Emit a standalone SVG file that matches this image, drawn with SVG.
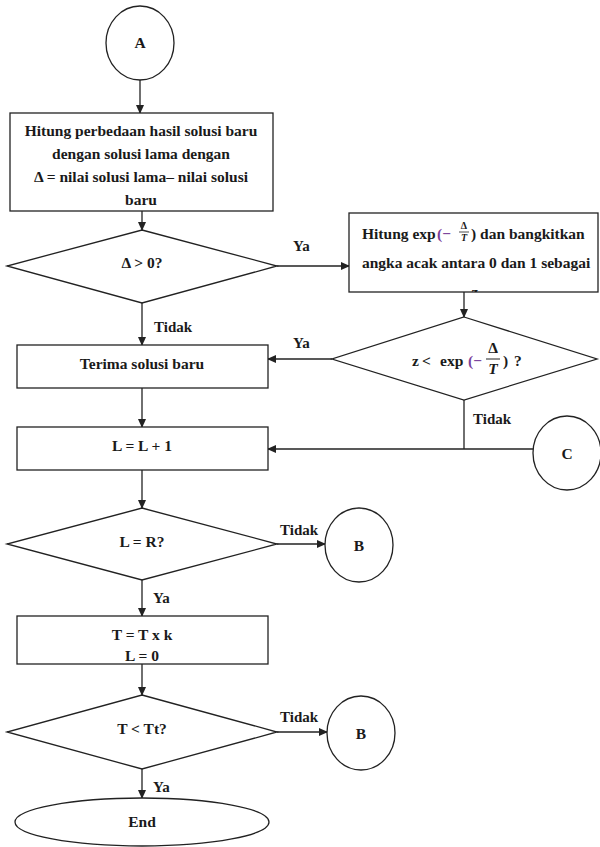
<svg xmlns="http://www.w3.org/2000/svg" width="600" height="847" viewBox="0 0 600 847">
<style>
.s{fill:#fff;stroke:#222;stroke-width:1.3}
.c{fill:none;stroke:#222;stroke-width:1.3}
.t{font-family:"Liberation Serif","Times New Roman",serif;font-weight:bold;font-size:15.5px;fill:#1a1a1a;text-anchor:middle}
.l{font-family:"Liberation Serif","Times New Roman",serif;font-weight:bold;font-size:15.5px;fill:#1a1a1a}
.lb{font-family:"Liberation Serif","Times New Roman",serif;font-weight:bold;font-size:15px;fill:#1a1a1a}
.p{fill:#7a3f9a}
.sm{font-size:10px}
</style>
<defs>
<marker id="ah" markerWidth="9" markerHeight="8" refX="8" refY="4" orient="auto" markerUnits="userSpaceOnUse">
<path d="M0,0 L9,4 L0,8 Z" fill="#222"/>
</marker>
<clipPath id="b2clip"><rect x="349" y="213" width="249" height="79"/></clipPath>
</defs>
<rect width="600" height="847" fill="#fff"/>

<g id="connectors">
<line class="c" x1="140" y1="80" x2="140" y2="113" marker-end="url(#ah)"/>
<line class="c" x1="142" y1="211" x2="142" y2="230" marker-end="url(#ah)"/>
<line class="c" x1="277" y1="266" x2="349" y2="266" marker-end="url(#ah)"/>
<text class="lb" x="293" y="251">Ya</text>
<line class="c" x1="142" y1="303" x2="142" y2="345" marker-end="url(#ah)"/>
<text class="lb" x="154" y="332">Tidak</text>
<line class="c" x1="464" y1="292" x2="464" y2="317" marker-end="url(#ah)"/>
<line class="c" x1="332" y1="359" x2="268" y2="359" marker-end="url(#ah)"/>
<text class="lb" x="293" y="348">Ya</text>
<line class="c" x1="464" y1="400" x2="464" y2="449"/>
<text class="lb" x="473" y="424">Tidak</text>
<line class="c" x1="533" y1="449" x2="268" y2="449" marker-end="url(#ah)"/>
<line class="c" x1="142" y1="388" x2="142" y2="427" marker-end="url(#ah)"/>
<line class="c" x1="142" y1="470" x2="142" y2="508" marker-end="url(#ah)"/>
<line class="c" x1="277" y1="544" x2="325" y2="544" marker-end="url(#ah)"/>
<text class="lb" x="280" y="535">Tidak</text>
<line class="c" x1="142" y1="580" x2="142" y2="616" marker-end="url(#ah)"/>
<text class="lb" x="153" y="603">Ya</text>
<line class="c" x1="142" y1="664" x2="142" y2="695" marker-end="url(#ah)"/>
<line class="c" x1="277" y1="732" x2="327" y2="732" marker-end="url(#ah)"/>
<text class="lb" x="280" y="722">Tidak</text>
<line class="c" x1="142" y1="769" x2="142" y2="798" marker-end="url(#ah)"/>
<text class="lb" x="153" y="792">Ya</text>
</g>

<g id="circleA">
<ellipse class="s" cx="140" cy="43" rx="34" ry="37"/>
<text class="t" x="140" y="48">A</text>
</g>

<g id="box1">
<rect class="s" x="10" y="113" width="263" height="98"/>
<text class="t" x="141" y="136">Hitung perbedaan hasil solusi baru</text>
<text class="t" x="141" y="159">dengan solusi lama dengan</text>
<text class="t" x="141" y="182">Δ = nilai solusi lama–  nilai solusi</text>
<text class="t" x="141" y="205">baru</text>
</g>

<g id="dec1">
<polygon class="s" points="142,230 277,266 142,303 7,266"/>
<text class="t" x="142" y="268">Δ &gt; 0?</text>
</g>

<g id="box2">
<rect class="s" x="349" y="213" width="249" height="79"/>
<text class="l" x="362" y="239">Hitung exp</text>
<text class="l p" x="437" y="239">(−</text>
<text class="t sm" x="464" y="229">Δ</text>
<line x1="459" y1="232" x2="469" y2="232" stroke="#222" stroke-width="0.8"/>
<text class="t sm" x="464" y="241" font-style="italic">T</text>
<text class="l" x="471" y="239">) dan bangkitkan</text>
<text class="l" x="362" y="268">angka acak antara 0 dan 1 sebagai</text>
<text class="t" x="475" y="297" clip-path="url(#b2clip)">z</text>
</g>

<g id="dec2">
<polygon class="s" points="464,317 597,359 464,400 332,359"/>
<text class="l" x="412" y="366">z</text>
<text class="l" x="422" y="366">&lt;</text>
<text class="l" x="440" y="366">exp</text>
<text class="l p" x="468" y="366">(−</text>
<text class="t" x="493" y="353">Δ</text>
<line x1="486" y1="359" x2="500" y2="359" stroke="#222" stroke-width="1"/>
<text class="t" x="493" y="374" font-style="italic">T</text>
<text class="l" x="503" y="366">)</text>
<text class="l" x="514" y="366">?</text>
</g>

<g id="box3">
<rect class="s" x="17" y="345" width="251" height="43"/>
<text class="t" x="142" y="369">Terima solusi baru</text>
</g>

<g id="box4">
<rect class="s" x="17" y="427" width="251" height="43"/>
<text class="t" x="142" y="451">L = L + 1</text>
</g>

<g id="circleC">
<ellipse class="s" cx="567" cy="453" rx="34" ry="37"/>
<text class="t" x="567" y="459">C</text>
</g>

<g id="dec3">
<polygon class="s" points="142,508 277,544 142,580 7,544"/>
<text class="t" x="142" y="547">L = R?</text>
</g>

<g id="circleB1">
<ellipse class="s" cx="359" cy="545" rx="34" ry="37"/>
<text class="t" x="359" y="551">B</text>
</g>

<g id="box5">
<rect class="s" x="17" y="616" width="251" height="48"/>
<text class="t" x="142" y="640">T = T x k</text>
<text class="t" x="142" y="661">L = 0</text>
</g>

<g id="dec4">
<polygon class="s" points="142,695 277,732 142,769 7,732"/>
<text class="t" x="142" y="734">T &lt; Tt?</text>
</g>

<g id="circleB2">
<ellipse class="s" cx="361" cy="733" rx="34" ry="37"/>
<text class="t" x="361" y="739">B</text>
</g>

<g id="end">
<ellipse class="s" cx="142" cy="822" rx="127" ry="24"/>
<text class="t" x="142" y="827">End</text>
</g>
</svg>
